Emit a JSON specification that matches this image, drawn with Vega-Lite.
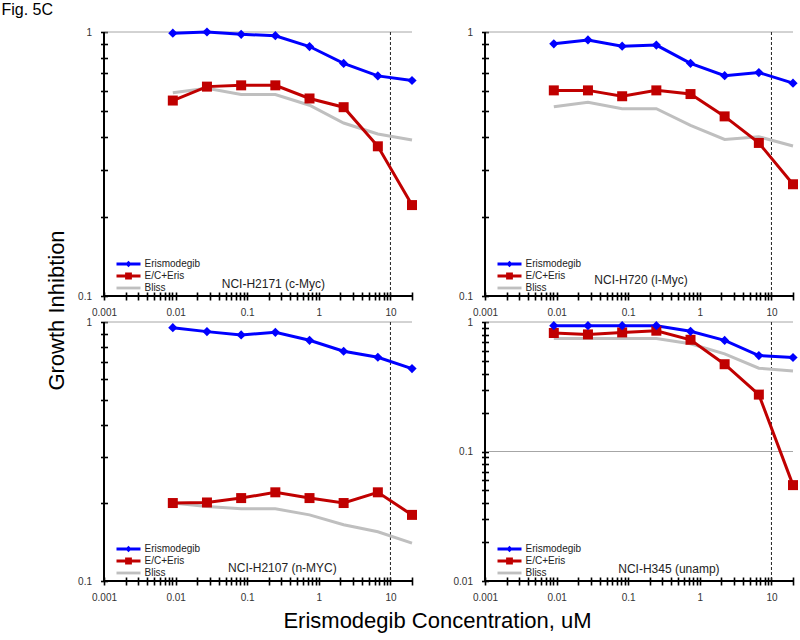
{
  "$schema": "https://vega.github.io/schema/vega-lite/v6.json",
  "padding": {"left": 1, "top": 2, "right": 5, "bottom": 5},
  "title": {"text": "Fig. 5C", "anchor": "start", "frame": "bounds", "fontSize": 16, "fontWeight": "normal", "font": "Liberation Sans", "color": "#000", "dx": -44, "offset": 8},
  "config": {
    "font": "Liberation Sans",
    "view": {"stroke": null},
    "axis": {"domain": false, "grid": false, "ticks": true, "tickColor": "#000", "tickWidth": 1.6, "tickOpacity": 1, "labelFont": "Liberation Sans", "labelFontSize": 10, "labelColor": "#333", "labelOverlap": false, "labelFlush": false, "labelBound": false, "titleFont": "Liberation Sans", "titleFontWeight": "normal", "titleColor": "#000"},
    "axisX": {"offset": -4, "tickSize": 8, "labelPadding": 7, "labelAngle": 0},
    "axisY": {"offset": -3.5, "tickSize": 7, "labelPadding": 9},
    "legend": {"orient": "bottom-left", "offset": 3, "padding": 0, "labelFont": "Liberation Sans", "labelFontSize": 10, "labelColor": "#222", "symbolType": "M-3,-0.35H3V0.35H-3Z", "symbolSize": 64, "symbolStrokeWidth": 0, "symbolOffset": 16.5, "labelOffset": 11, "rowPadding": 2}
  },
  "datasets": {
    "gi": [
      {"p": "H2171", "s": "Bliss", "c": 0.00914, "g": 0.589},
      {"p": "H2171", "s": "Bliss", "c": 0.0274, "g": 0.612},
      {"p": "H2171", "s": "Bliss", "c": 0.0823, "g": 0.58},
      {"p": "H2171", "s": "Bliss", "c": 0.247, "g": 0.58},
      {"p": "H2171", "s": "Bliss", "c": 0.741, "g": 0.528},
      {"p": "H2171", "s": "Bliss", "c": 2.22, "g": 0.452},
      {"p": "H2171", "s": "Bliss", "c": 6.67, "g": 0.411},
      {"p": "H2171", "s": "Bliss", "c": 20, "g": 0.39},
      {"p": "H2171", "s": "E/C+Eris", "c": 0.00914, "g": 0.55},
      {"p": "H2171", "s": "E/C+Eris", "c": 0.0274, "g": 0.621},
      {"p": "H2171", "s": "E/C+Eris", "c": 0.0823, "g": 0.628},
      {"p": "H2171", "s": "E/C+Eris", "c": 0.247, "g": 0.628},
      {"p": "H2171", "s": "E/C+Eris", "c": 0.741, "g": 0.56},
      {"p": "H2171", "s": "E/C+Eris", "c": 2.22, "g": 0.519},
      {"p": "H2171", "s": "E/C+Eris", "c": 6.67, "g": 0.369},
      {"p": "H2171", "s": "E/C+Eris", "c": 20, "g": 0.221},
      {"p": "H2171", "s": "Erismodegib", "c": 0.00914, "g": 0.99},
      {"p": "H2171", "s": "Erismodegib", "c": 0.0274, "g": 1.0},
      {"p": "H2171", "s": "Erismodegib", "c": 0.0823, "g": 0.98},
      {"p": "H2171", "s": "Erismodegib", "c": 0.247, "g": 0.968},
      {"p": "H2171", "s": "Erismodegib", "c": 0.741, "g": 0.881},
      {"p": "H2171", "s": "Erismodegib", "c": 2.22, "g": 0.76},
      {"p": "H2171", "s": "Erismodegib", "c": 6.67, "g": 0.682},
      {"p": "H2171", "s": "Erismodegib", "c": 20, "g": 0.655},
      {"p": "H720", "s": "Bliss", "c": 0.00914, "g": 0.521},
      {"p": "H720", "s": "Bliss", "c": 0.0274, "g": 0.542},
      {"p": "H720", "s": "Bliss", "c": 0.0823, "g": 0.512},
      {"p": "H720", "s": "Bliss", "c": 0.247, "g": 0.512},
      {"p": "H720", "s": "Bliss", "c": 0.741, "g": 0.443},
      {"p": "H720", "s": "Bliss", "c": 2.22, "g": 0.392},
      {"p": "H720", "s": "Bliss", "c": 6.67, "g": 0.401},
      {"p": "H720", "s": "Bliss", "c": 20, "g": 0.37},
      {"p": "H720", "s": "E/C+Eris", "c": 0.00914, "g": 0.601},
      {"p": "H720", "s": "E/C+Eris", "c": 0.0274, "g": 0.601},
      {"p": "H720", "s": "E/C+Eris", "c": 0.0823, "g": 0.571},
      {"p": "H720", "s": "E/C+Eris", "c": 0.247, "g": 0.601},
      {"p": "H720", "s": "E/C+Eris", "c": 0.741, "g": 0.582},
      {"p": "H720", "s": "E/C+Eris", "c": 2.22, "g": 0.479},
      {"p": "H720", "s": "E/C+Eris", "c": 6.67, "g": 0.38},
      {"p": "H720", "s": "E/C+Eris", "c": 20, "g": 0.265},
      {"p": "H720", "s": "Erismodegib", "c": 0.00914, "g": 0.902},
      {"p": "H720", "s": "Erismodegib", "c": 0.0274, "g": 0.933},
      {"p": "H720", "s": "Erismodegib", "c": 0.0823, "g": 0.884},
      {"p": "H720", "s": "Erismodegib", "c": 0.247, "g": 0.892},
      {"p": "H720", "s": "Erismodegib", "c": 0.741, "g": 0.761},
      {"p": "H720", "s": "Erismodegib", "c": 2.22, "g": 0.683},
      {"p": "H720", "s": "Erismodegib", "c": 6.67, "g": 0.702},
      {"p": "H720", "s": "Erismodegib", "c": 20, "g": 0.64},
      {"p": "H2107", "s": "Bliss", "c": 0.00914, "g": 0.2},
      {"p": "H2107", "s": "Bliss", "c": 0.0274, "g": 0.194},
      {"p": "H2107", "s": "Bliss", "c": 0.0823, "g": 0.19},
      {"p": "H2107", "s": "Bliss", "c": 0.247, "g": 0.19},
      {"p": "H2107", "s": "Bliss", "c": 0.741, "g": 0.18},
      {"p": "H2107", "s": "Bliss", "c": 2.22, "g": 0.165},
      {"p": "H2107", "s": "Bliss", "c": 6.67, "g": 0.155},
      {"p": "H2107", "s": "Bliss", "c": 20, "g": 0.14},
      {"p": "H2107", "s": "E/C+Eris", "c": 0.00914, "g": 0.2},
      {"p": "H2107", "s": "E/C+Eris", "c": 0.0274, "g": 0.201},
      {"p": "H2107", "s": "E/C+Eris", "c": 0.0823, "g": 0.209},
      {"p": "H2107", "s": "E/C+Eris", "c": 0.247, "g": 0.22},
      {"p": "H2107", "s": "E/C+Eris", "c": 0.741, "g": 0.209},
      {"p": "H2107", "s": "E/C+Eris", "c": 2.22, "g": 0.2},
      {"p": "H2107", "s": "E/C+Eris", "c": 6.67, "g": 0.22},
      {"p": "H2107", "s": "E/C+Eris", "c": 20, "g": 0.18},
      {"p": "H2107", "s": "Erismodegib", "c": 0.00914, "g": 0.951},
      {"p": "H2107", "s": "Erismodegib", "c": 0.0274, "g": 0.918},
      {"p": "H2107", "s": "Erismodegib", "c": 0.0823, "g": 0.891},
      {"p": "H2107", "s": "Erismodegib", "c": 0.247, "g": 0.912},
      {"p": "H2107", "s": "Erismodegib", "c": 0.741, "g": 0.85},
      {"p": "H2107", "s": "Erismodegib", "c": 2.22, "g": 0.771},
      {"p": "H2107", "s": "Erismodegib", "c": 6.67, "g": 0.731},
      {"p": "H2107", "s": "Erismodegib", "c": 20, "g": 0.661},
      {"p": "H345", "s": "Bliss", "c": 0.00914, "g": 0.747},
      {"p": "H345", "s": "Bliss", "c": 0.0274, "g": 0.747},
      {"p": "H345", "s": "Bliss", "c": 0.0823, "g": 0.747},
      {"p": "H345", "s": "Bliss", "c": 0.247, "g": 0.747},
      {"p": "H345", "s": "Bliss", "c": 0.741, "g": 0.679},
      {"p": "H345", "s": "Bliss", "c": 2.22, "g": 0.568},
      {"p": "H345", "s": "Bliss", "c": 6.67, "g": 0.44},
      {"p": "H345", "s": "Bliss", "c": 20, "g": 0.419},
      {"p": "H345", "s": "E/C+Eris", "c": 0.00914, "g": 0.822},
      {"p": "H345", "s": "E/C+Eris", "c": 0.0274, "g": 0.802},
      {"p": "H345", "s": "E/C+Eris", "c": 0.0823, "g": 0.831},
      {"p": "H345", "s": "E/C+Eris", "c": 0.247, "g": 0.857},
      {"p": "H345", "s": "E/C+Eris", "c": 0.741, "g": 0.729},
      {"p": "H345", "s": "E/C+Eris", "c": 2.22, "g": 0.472},
      {"p": "H345", "s": "E/C+Eris", "c": 6.67, "g": 0.275},
      {"p": "H345", "s": "E/C+Eris", "c": 20, "g": 0.055},
      {"p": "H345", "s": "Erismodegib", "c": 0.00914, "g": 0.937},
      {"p": "H345", "s": "Erismodegib", "c": 0.0274, "g": 0.937},
      {"p": "H345", "s": "Erismodegib", "c": 0.0823, "g": 0.937},
      {"p": "H345", "s": "Erismodegib", "c": 0.247, "g": 0.937},
      {"p": "H345", "s": "Erismodegib", "c": 0.741, "g": 0.847},
      {"p": "H345", "s": "Erismodegib", "c": 2.22, "g": 0.721},
      {"p": "H345", "s": "Erismodegib", "c": 6.67, "g": 0.551},
      {"p": "H345", "s": "Erismodegib", "c": 20, "g": 0.532}
    ]
  },
  "bounds": "flush",
  "columns": 2,
  "spacing": {"row": 26, "column": 73},
  "resolve": {"legend": {"color": "independent"}},
  "concat": [
    {
      "width": 308, "height": 264,
      "layer": [
        {"data": {"values": [{}]}, "mark": {"type": "rule", "color": "#a6a6a6", "strokeWidth": 1}, "encoding": {"y": {"datum": 1}}},
        {"data": {"values": [{}]}, "mark": {"type": "rule", "color": "#222", "strokeWidth": 1, "strokeDash": [3, 2]}, "encoding": {"x": {"datum": 10}}},
        {"data": {"name": "gi"}, "transform": [{"filter": "datum.p=='H2171'"}], "mark": {"type": "line", "strokeWidth": 3},
         "encoding": {
           "x": {"field": "c", "type": "quantitative", "scale": {"type": "log", "domain": [0.001, 20], "nice": false},
                 "axis": {"title": null, "values": [0.001,0.002,0.003,0.004,0.005,0.006,0.007,0.008,0.009,0.01,0.02,0.03,0.04,0.05,0.06,0.07,0.08,0.09,0.1,0.2,0.3,0.4,0.5,0.6,0.7,0.8,0.9,1,2,3,4,5,6,7,8,9,10,20], "labelExpr": "datum.value==0.001||datum.value==0.01||datum.value==0.1||datum.value==1||datum.value==10 ? format(datum.value,'~g') : ''"}},
           "y": {"field": "g", "type": "quantitative", "scale": {"type": "log", "domain": [0.1, 1], "nice": false},
                 "axis": {"title": "Growth Inhibtion", "titleFontSize": 22, "titleX": -44, "titleY": 278, "titleBaseline": "alphabetic", "values": [0.1,0.2,0.3,0.4,0.5,0.6,0.7,0.8,0.9,1], "labelExpr": "datum.value==1||datum.value==0.1||datum.value==0.01 ? format(datum.value,'~g') : ''"}},
           "color": {"field": "s", "type": "nominal", "scale": {"domain": ["Erismodegib", "E/C+Eris", "Bliss"], "range": ["#0000ff", "#c00000", "#bfbfbf"]},
                     "legend": {"title": null, "encode": {"symbols": {"update": {
                       "shape": {"signal": "datum.value=='Erismodegib' ? 'M-3,-0.35H3V0.35H-3Z M0,-0.8L0.8,0L0,0.8L-0.8,0Z' : datum.value=='E/C+Eris' ? 'M-3,-0.35H3V0.35H-3Z M-0.85,-0.85H0.85V0.85H-0.85Z' : 'M-3,-0.35H3V0.35H-3Z'"},
                       "fill": {"signal": "datum.value=='Erismodegib' ? '#0000ff' : datum.value=='E/C+Eris' ? '#c00000' : '#bfbfbf'"},
                       "strokeWidth": {"value": 0}}}}}}
         }},
        {"data": {"name": "gi"}, "transform": [{"filter": "datum.p=='H2171' && datum.s=='E/C+Eris'"}], "mark": {"type": "point", "shape": "square", "filled": true, "size": 100, "color": "#c00000", "opacity": 1},
         "encoding": {"x": {"field": "c", "type": "quantitative", "scale": {"type": "log", "domain": [0.001, 20], "nice": false}}, "y": {"field": "g", "type": "quantitative", "scale": {"type": "log", "domain": [0.1, 1], "nice": false}}}},
        {"data": {"name": "gi"}, "transform": [{"filter": "datum.p=='H2171' && datum.s=='Erismodegib'"}], "mark": {"type": "point", "shape": "diamond", "filled": true, "size": 85, "color": "#0000ff", "opacity": 1},
         "encoding": {"x": {"field": "c", "type": "quantitative", "scale": {"type": "log", "domain": [0.001, 20], "nice": false}}, "y": {"field": "g", "type": "quantitative", "scale": {"type": "log", "domain": [0.1, 1], "nice": false}}}},
        {"data": {"values": [{}]}, "mark": {"type": "rule", "color": "#000", "strokeWidth": 2}, "encoding": {"x": {"datum": 0.001}}},
        {"data": {"values": [{}]}, "mark": {"type": "rule", "color": "#000", "strokeWidth": 2}, "encoding": {"y": {"datum": 0.1}}},
        {"data": {"values": [{}]}, "mark": {"type": "text", "fontSize": 12, "color": "#222", "baseline": "alphabetic", "align": "center"}, "encoding": {"x": {"datum": 0.232}, "y": {"datum": 0.107}, "text": {"value": "NCI-H2171 (c-Myc)"}}}
      ]
    },
    {
      "width": 308, "height": 264,
      "layer": [
        {"data": {"values": [{}]}, "mark": {"type": "rule", "color": "#a6a6a6", "strokeWidth": 1}, "encoding": {"y": {"datum": 1}}},
        {"data": {"values": [{}]}, "mark": {"type": "rule", "color": "#222", "strokeWidth": 1, "strokeDash": [3, 2]}, "encoding": {"x": {"datum": 10}}},
        {"data": {"name": "gi"}, "transform": [{"filter": "datum.p=='H720'"}], "mark": {"type": "line", "strokeWidth": 3},
         "encoding": {
           "x": {"field": "c", "type": "quantitative", "scale": {"type": "log", "domain": [0.001, 20], "nice": false},
                 "axis": {"title": null, "values": [0.001,0.002,0.003,0.004,0.005,0.006,0.007,0.008,0.009,0.01,0.02,0.03,0.04,0.05,0.06,0.07,0.08,0.09,0.1,0.2,0.3,0.4,0.5,0.6,0.7,0.8,0.9,1,2,3,4,5,6,7,8,9,10,20], "labelExpr": "datum.value==0.001||datum.value==0.01||datum.value==0.1||datum.value==1||datum.value==10 ? format(datum.value,'~g') : ''"}},
           "y": {"field": "g", "type": "quantitative", "scale": {"type": "log", "domain": [0.1, 1], "nice": false},
                 "axis": {"title": null, "values": [0.1,0.2,0.3,0.4,0.5,0.6,0.7,0.8,0.9,1], "labelExpr": "datum.value==1||datum.value==0.1||datum.value==0.01 ? format(datum.value,'~g') : ''"}},
           "color": {"field": "s", "type": "nominal", "scale": {"domain": ["Erismodegib", "E/C+Eris", "Bliss"], "range": ["#0000ff", "#c00000", "#bfbfbf"]},
                     "legend": {"title": null, "encode": {"symbols": {"update": {
                       "shape": {"signal": "datum.value=='Erismodegib' ? 'M-3,-0.35H3V0.35H-3Z M0,-0.8L0.8,0L0,0.8L-0.8,0Z' : datum.value=='E/C+Eris' ? 'M-3,-0.35H3V0.35H-3Z M-0.85,-0.85H0.85V0.85H-0.85Z' : 'M-3,-0.35H3V0.35H-3Z'"},
                       "fill": {"signal": "datum.value=='Erismodegib' ? '#0000ff' : datum.value=='E/C+Eris' ? '#c00000' : '#bfbfbf'"},
                       "strokeWidth": {"value": 0}}}}}}
         }},
        {"data": {"name": "gi"}, "transform": [{"filter": "datum.p=='H720' && datum.s=='E/C+Eris'"}], "mark": {"type": "point", "shape": "square", "filled": true, "size": 100, "color": "#c00000", "opacity": 1},
         "encoding": {"x": {"field": "c", "type": "quantitative", "scale": {"type": "log", "domain": [0.001, 20], "nice": false}}, "y": {"field": "g", "type": "quantitative", "scale": {"type": "log", "domain": [0.1, 1], "nice": false}}}},
        {"data": {"name": "gi"}, "transform": [{"filter": "datum.p=='H720' && datum.s=='Erismodegib'"}], "mark": {"type": "point", "shape": "diamond", "filled": true, "size": 85, "color": "#0000ff", "opacity": 1},
         "encoding": {"x": {"field": "c", "type": "quantitative", "scale": {"type": "log", "domain": [0.001, 20], "nice": false}}, "y": {"field": "g", "type": "quantitative", "scale": {"type": "log", "domain": [0.1, 1], "nice": false}}}},
        {"data": {"values": [{}]}, "mark": {"type": "rule", "color": "#000", "strokeWidth": 2}, "encoding": {"x": {"datum": 0.001}}},
        {"data": {"values": [{}]}, "mark": {"type": "rule", "color": "#000", "strokeWidth": 2}, "encoding": {"y": {"datum": 0.1}}},
        {"data": {"values": [{}]}, "mark": {"type": "text", "fontSize": 12, "color": "#222", "baseline": "alphabetic", "align": "center"}, "encoding": {"x": {"datum": 0.151}, "y": {"datum": 0.111}, "text": {"value": "NCI-H720 (l-Myc)"}}}
      ]
    },
    {
      "width": 308, "height": 259,
      "layer": [
        {"data": {"values": [{}]}, "mark": {"type": "rule", "color": "#a6a6a6", "strokeWidth": 1}, "encoding": {"y": {"datum": 1}}},
        {"data": {"values": [{}]}, "mark": {"type": "rule", "color": "#222", "strokeWidth": 1, "strokeDash": [3, 2]}, "encoding": {"x": {"datum": 10}}},
        {"data": {"name": "gi"}, "transform": [{"filter": "datum.p=='H2107'"}], "mark": {"type": "line", "strokeWidth": 3},
         "encoding": {
           "x": {"field": "c", "type": "quantitative", "scale": {"type": "log", "domain": [0.001, 20], "nice": false},
                 "axis": {"title": "Erismodegib Concentration, uM", "titleFontSize": 22, "titleX": 333, "titleY": 50, "titleBaseline": "alphabetic", "values": [0.001,0.002,0.003,0.004,0.005,0.006,0.007,0.008,0.009,0.01,0.02,0.03,0.04,0.05,0.06,0.07,0.08,0.09,0.1,0.2,0.3,0.4,0.5,0.6,0.7,0.8,0.9,1,2,3,4,5,6,7,8,9,10,20], "labelExpr": "datum.value==0.001||datum.value==0.01||datum.value==0.1||datum.value==1||datum.value==10 ? format(datum.value,'~g') : ''"}},
           "y": {"field": "g", "type": "quantitative", "scale": {"type": "log", "domain": [0.1, 1], "nice": false},
                 "axis": {"title": null, "values": [0.1,0.2,0.3,0.4,0.5,0.6,0.7,0.8,0.9,1], "labelExpr": "datum.value==1||datum.value==0.1||datum.value==0.01 ? format(datum.value,'~g') : ''"}},
           "color": {"field": "s", "type": "nominal", "scale": {"domain": ["Erismodegib", "E/C+Eris", "Bliss"], "range": ["#0000ff", "#c00000", "#bfbfbf"]},
                     "legend": {"title": null, "encode": {"symbols": {"update": {
                       "shape": {"signal": "datum.value=='Erismodegib' ? 'M-3,-0.35H3V0.35H-3Z M0,-0.8L0.8,0L0,0.8L-0.8,0Z' : datum.value=='E/C+Eris' ? 'M-3,-0.35H3V0.35H-3Z M-0.85,-0.85H0.85V0.85H-0.85Z' : 'M-3,-0.35H3V0.35H-3Z'"},
                       "fill": {"signal": "datum.value=='Erismodegib' ? '#0000ff' : datum.value=='E/C+Eris' ? '#c00000' : '#bfbfbf'"},
                       "strokeWidth": {"value": 0}}}}}}
         }},
        {"data": {"name": "gi"}, "transform": [{"filter": "datum.p=='H2107' && datum.s=='E/C+Eris'"}], "mark": {"type": "point", "shape": "square", "filled": true, "size": 100, "color": "#c00000", "opacity": 1},
         "encoding": {"x": {"field": "c", "type": "quantitative", "scale": {"type": "log", "domain": [0.001, 20], "nice": false}}, "y": {"field": "g", "type": "quantitative", "scale": {"type": "log", "domain": [0.1, 1], "nice": false}}}},
        {"data": {"name": "gi"}, "transform": [{"filter": "datum.p=='H2107' && datum.s=='Erismodegib'"}], "mark": {"type": "point", "shape": "diamond", "filled": true, "size": 85, "color": "#0000ff", "opacity": 1},
         "encoding": {"x": {"field": "c", "type": "quantitative", "scale": {"type": "log", "domain": [0.001, 20], "nice": false}}, "y": {"field": "g", "type": "quantitative", "scale": {"type": "log", "domain": [0.1, 1], "nice": false}}}},
        {"data": {"values": [{}]}, "mark": {"type": "rule", "color": "#000", "strokeWidth": 2}, "encoding": {"x": {"datum": 0.001}}},
        {"data": {"values": [{}]}, "mark": {"type": "rule", "color": "#000", "strokeWidth": 2}, "encoding": {"y": {"datum": 0.1}}},
        {"data": {"values": [{}]}, "mark": {"type": "text", "fontSize": 12, "color": "#222", "baseline": "alphabetic", "align": "center"}, "encoding": {"x": {"datum": 0.31}, "y": {"datum": 0.108}, "text": {"value": "NCI-H2107 (n-MYC)"}}}
      ]
    },
    {
      "width": 308, "height": 259,
      "layer": [
        {"data": {"values": [{"v": 1}, {"v": 0.1}]}, "mark": {"type": "rule", "color": "#a6a6a6", "strokeWidth": 1}, "encoding": {"y": {"field": "v", "type": "quantitative", "scale": {"type": "log", "domain": [0.01, 1], "nice": false}}}},
        {"data": {"values": [{}]}, "mark": {"type": "rule", "color": "#222", "strokeWidth": 1, "strokeDash": [3, 2]}, "encoding": {"x": {"datum": 10}}},
        {"data": {"name": "gi"}, "transform": [{"filter": "datum.p=='H345'"}], "mark": {"type": "line", "strokeWidth": 3},
         "encoding": {
           "x": {"field": "c", "type": "quantitative", "scale": {"type": "log", "domain": [0.001, 20], "nice": false},
                 "axis": {"title": null, "values": [0.001,0.002,0.003,0.004,0.005,0.006,0.007,0.008,0.009,0.01,0.02,0.03,0.04,0.05,0.06,0.07,0.08,0.09,0.1,0.2,0.3,0.4,0.5,0.6,0.7,0.8,0.9,1,2,3,4,5,6,7,8,9,10,20], "labelExpr": "datum.value==0.001||datum.value==0.01||datum.value==0.1||datum.value==1||datum.value==10 ? format(datum.value,'~g') : ''"}},
           "y": {"field": "g", "type": "quantitative", "scale": {"type": "log", "domain": [0.01, 1], "nice": false},
                 "axis": {"title": null, "values": [0.01,0.02,0.03,0.04,0.05,0.06,0.07,0.08,0.09,0.1,0.2,0.3,0.4,0.5,0.6,0.7,0.8,0.9,1], "labelExpr": "datum.value==1||datum.value==0.1||datum.value==0.01 ? format(datum.value,'~g') : ''"}},
           "color": {"field": "s", "type": "nominal", "scale": {"domain": ["Erismodegib", "E/C+Eris", "Bliss"], "range": ["#0000ff", "#c00000", "#bfbfbf"]},
                     "legend": {"title": null, "encode": {"symbols": {"update": {
                       "shape": {"signal": "datum.value=='Erismodegib' ? 'M-3,-0.35H3V0.35H-3Z M0,-0.8L0.8,0L0,0.8L-0.8,0Z' : datum.value=='E/C+Eris' ? 'M-3,-0.35H3V0.35H-3Z M-0.85,-0.85H0.85V0.85H-0.85Z' : 'M-3,-0.35H3V0.35H-3Z'"},
                       "fill": {"signal": "datum.value=='Erismodegib' ? '#0000ff' : datum.value=='E/C+Eris' ? '#c00000' : '#bfbfbf'"},
                       "strokeWidth": {"value": 0}}}}}}
         }},
        {"data": {"name": "gi"}, "transform": [{"filter": "datum.p=='H345' && datum.s=='E/C+Eris'"}], "mark": {"type": "point", "shape": "square", "filled": true, "size": 100, "color": "#c00000", "opacity": 1},
         "encoding": {"x": {"field": "c", "type": "quantitative", "scale": {"type": "log", "domain": [0.001, 20], "nice": false}}, "y": {"field": "g", "type": "quantitative", "scale": {"type": "log", "domain": [0.01, 1], "nice": false}}}},
        {"data": {"name": "gi"}, "transform": [{"filter": "datum.p=='H345' && datum.s=='Erismodegib'"}], "mark": {"type": "point", "shape": "diamond", "filled": true, "size": 85, "color": "#0000ff", "opacity": 1},
         "encoding": {"x": {"field": "c", "type": "quantitative", "scale": {"type": "log", "domain": [0.001, 20], "nice": false}}, "y": {"field": "g", "type": "quantitative", "scale": {"type": "log", "domain": [0.01, 1], "nice": false}}}},
        {"data": {"values": [{}]}, "mark": {"type": "rule", "color": "#000", "strokeWidth": 2}, "encoding": {"x": {"datum": 0.001}}},
        {"data": {"values": [{}]}, "mark": {"type": "rule", "color": "#000", "strokeWidth": 2}, "encoding": {"y": {"datum": 0.01}}},
        {"data": {"values": [{}]}, "mark": {"type": "text", "fontSize": 12, "color": "#222", "baseline": "alphabetic", "align": "center"}, "encoding": {"x": {"datum": 0.37}, "y": {"datum": 0.0115}, "text": {"value": "NCI-H345 (unamp)"}}}
      ]
    }
  ]
}
